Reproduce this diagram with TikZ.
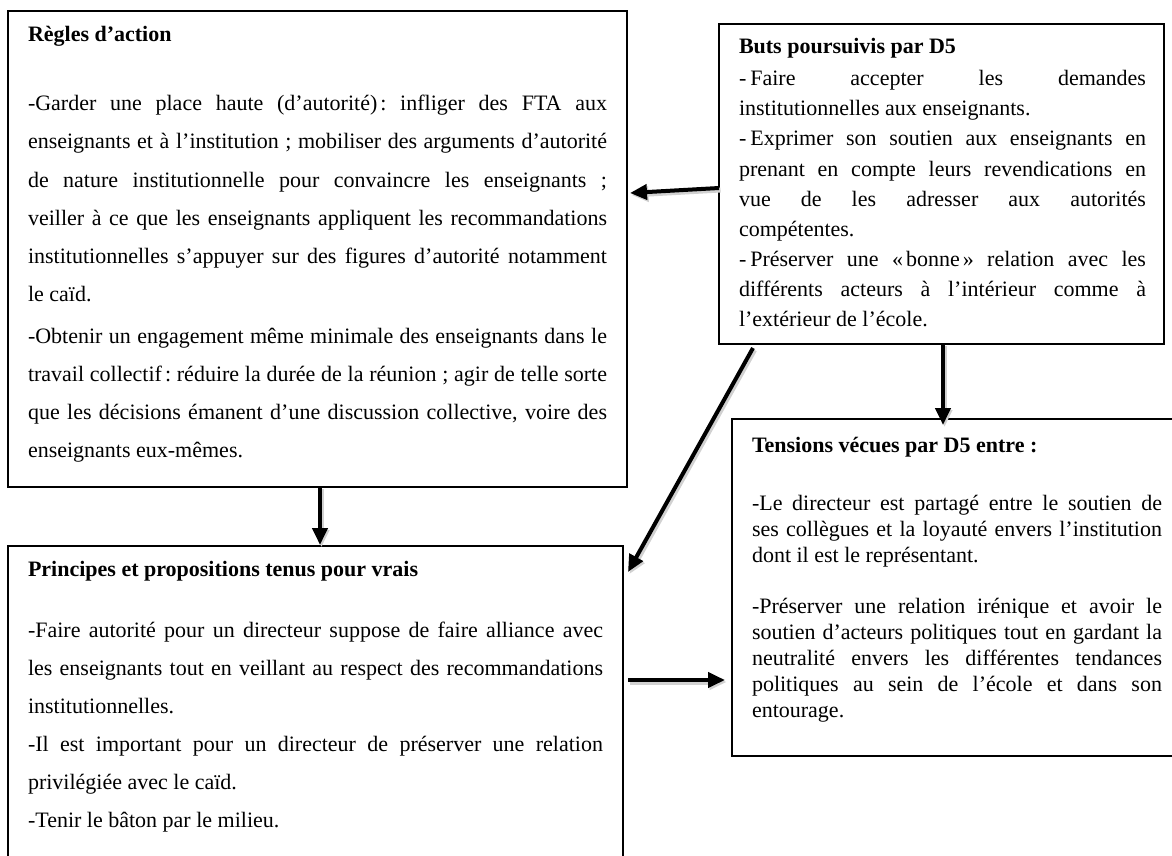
\documentclass[tikz,border=0pt]{standalone}
\usepackage{fontspec}
\setmainfont{Liberation Serif}
\usetikzlibrary{arrows.meta,calc}
\frenchspacing
\newcommand{\jl}[2]{\makebox[#1][s]{#2}}
\newcommand{\dsh}{-\kern4pt}
\begin{document}
\begin{tikzpicture}[x=1pt,y=-1pt,
  box/.style={draw, line width=2pt, inner sep=0pt, outer sep=0pt, anchor=north west, rectangle},
  ln/.style={anchor=base west, inner sep=0pt, outer sep=0pt, font=\fontsize{22pt}{26pt}\selectfont\frenchspacing},
  ttl/.style={anchor=base west, inner sep=0pt, outer sep=0pt, font=\fontsize{22pt}{26pt}\selectfont\bfseries\frenchspacing},
  arr/.style={line width=4pt, -{Triangle[length=17pt,width=15pt]},
    preaction={draw=black!18, line width=5pt, transform canvas={shift={(1.5pt,-2pt)}}}}]
\useasboundingbox (0,0) rectangle (1172,856);
\clip (0,0) rectangle (1172,856);
\fill[white] (0,0) rectangle (1172,856);

% boxes
\node[box, minimum width=619pt, minimum height=476pt] (b1) at (8,11) {};
\node[box, minimum width=445pt, minimum height=320pt] (b2) at (719,24) {};
\node[box, minimum width=615pt, minimum height=324pt] (b3) at (8,546) {};
\node[box, minimum width=450pt, minimum height=337pt] (b4) at (732,419) {};

% box 1 text
\node[ttl] (t1) at (28,42) {Règles d’action};
\node[ln] (l1a) at (28,111) {\jl{579pt}{-Garder une place haute (d’autorité)\kern3pt: infliger des FTA aux}};
\node[ln] (l1b) at (28,149) {\jl{579pt}{enseignants et à l’institution ; mobiliser des arguments d’autorité}};
\node[ln] (l1c) at (28,187) {\jl{579pt}{de nature institutionnelle pour convaincre les enseignants ;}};
\node[ln] (l1d) at (28,225) {\jl{579pt}{veiller à ce que les enseignants appliquent les recommandations}};
\node[ln] (l1e) at (28,263) {\jl{579pt}{institutionnelles s’appuyer sur des figures d’autorité notamment}};
\node[ln] (l1f) at (28,301) {le caïd.};
\node[ln] (l1g) at (28,343) {\jl{579pt}{-Obtenir un engagement même minimale des enseignants dans le}};
\node[ln] (l1h) at (28,381) {\jl{579pt}{travail collectif\kern3pt: réduire la durée de la réunion ; agir de telle sorte}};
\node[ln] (l1i) at (28,419) {\jl{579pt}{que les décisions émanent d’une discussion collective, voire des}};
\node[ln] (l1j) at (28,457) {enseignants eux-mêmes.};

% box 2 text
\node[ttl] (t2) at (739,54) {Buts poursuivis par D5};
\node[ln] (l2a) at (739,86) {\jl{407pt}{\dsh Faire accepter les demandes}};
\node[ln] (l2b) at (739,116) {institutionnelles aux enseignants.};
\node[ln] (l2c) at (739,146) {\jl{407pt}{\dsh Exprimer son soutien aux enseignants en}};
\node[ln] (l2d) at (739,176) {\jl{407pt}{prenant en compte leurs revendications en}};
\node[ln] (l2e) at (739,206) {\jl{407pt}{vue de les adresser aux autorités}};
\node[ln] (l2f) at (739,236) {compétentes.};
\node[ln] (l2g) at (739,266) {\jl{407pt}{\dsh Préserver une «\kern3pt bonne\kern3pt» relation avec les}};
\node[ln] (l2h) at (739,296) {\jl{407pt}{différents acteurs à l’intérieur comme à}};
\node[ln] (l2i) at (739,326) {l’extérieur de l’école.};

% box 3 text
\node[ttl] (t3) at (28,576) {Principes et propositions tenus pour vrais};
\node[ln] (l3a) at (28,637) {\jl{575pt}{-Faire autorité pour un directeur suppose de faire alliance avec}};
\node[ln] (l3b) at (28,675) {\jl{575pt}{les enseignants tout en veillant au respect des recommandations}};
\node[ln] (l3c) at (28,713) {institutionnelles.};
\node[ln] (l3d) at (28,751) {\jl{575pt}{-Il est important pour un directeur de préserver une relation}};
\node[ln] (l3e) at (28,789) {privilégiée avec le caïd.};
\node[ln] (l3f) at (28,827) {-Tenir le bâton par le milieu.};

% box 4 text
\node[ttl] (t4) at (752,452) {Tensions vécues par D5 entre :};
\node[ln] (l4a) at (752,510) {\jl{410pt}{-Le directeur est partagé entre le soutien de}};
\node[ln] (l4b) at (752,536) {\jl{410pt}{ses collègues et la loyauté envers l’institution}};
\node[ln] (l4c) at (752,562) {dont il est le représentant.};
\node[ln] (l4d) at (752,613) {\jl{410pt}{-Préserver une relation irénique et avoir le}};
\node[ln] (l4e) at (752,639) {\jl{410pt}{soutien d’acteurs politiques tout en gardant la}};
\node[ln] (l4f) at (752,665) {\jl{410pt}{neutralité envers les différentes tendances}};
\node[ln] (l4g) at (752,691) {\jl{410pt}{politiques au sein de l’école et dans son}};
\node[ln] (l4h) at (752,717) {entourage.};

% arrows
\draw[arr] ($(b2.north west)+(0,164)$) -- ($(b1.north east)+(3,182)$);
\draw[arr] ($(b2.south west)+(34,4)$) -- ($(b3.north east)+(5,26)$);
\draw[arr] ($(b1.south west)+(312,0)$) -- ($(b3.north west)+(312,-1)$);
\draw[arr] ($(b2.south west)+(224,0)$) -- ($(b4.north west)+(211,6)$);
\draw[arr] ($(b3.north east)+(5,134)$) -- ($(b4.north west)+(-7,261)$);
\end{tikzpicture}
\end{document}
